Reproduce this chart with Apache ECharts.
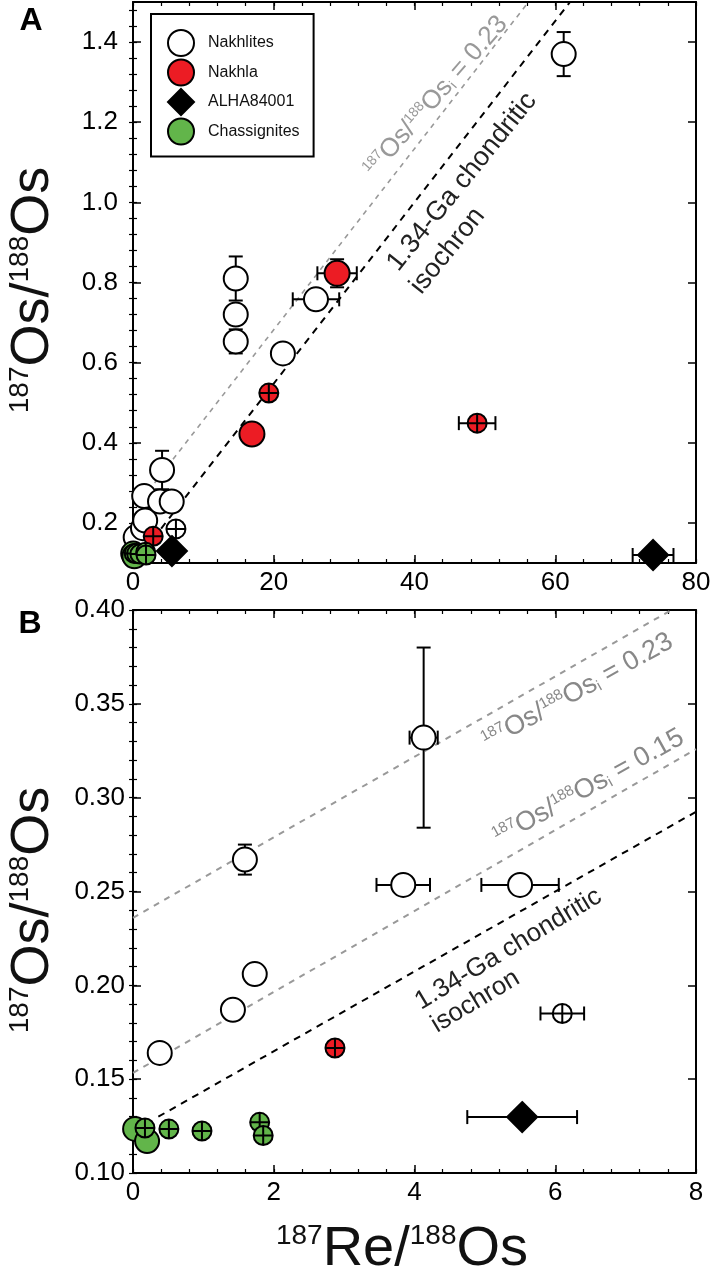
<!DOCTYPE html>
<html>
<head>
<meta charset="utf-8">
<script src="https://cdn.jsdelivr.net/npm/echarts@6/dist/echarts.min.js"></script>
<style>
  html, body { margin: 0; padding: 0; background: #fff; }
  #chart { width: 715px; height: 1273px; }
</style>
</head>
<body>
<div id="chart"></div>
<script>
// [187Re/188Os, 187Os/188Os, ±Re/Os, ±Os/Os, crossed(err smaller than symbol)]
const nakhlites = [
  [0.38, 0.164, 0, 0, 0],
  [1.42, 0.187, 0, 0, 0],
  [1.73, 0.206, 0, 0, 0],
  [1.59, 0.267, 0, 0.008, 0],
  [4.13, 0.332, 0.2, 0.048, 0],
  [3.84, 0.2535, 0.38, 0, 0],
  [5.50, 0.2535, 0.55, 0, 0],
  [6.10, 0.185, 0.31, 0, 1],
  [14.6, 0.810, 0, 0.055, 0],
  [14.6, 0.720, 0, 0, 0],
  [14.6, 0.653, 0, 0.03, 0],
  [21.3, 0.623, 0, 0, 0],
  [26.0, 0.758, 3.3, 0, 0],
  [61.2, 1.370, 0, 0.055, 0]
];
const nakhla = [
  [2.87, 0.1666, 0.1, 0, 1],
  [16.9, 0.422, 0, 0, 0],
  [19.3, 0.524, 0, 0, 1],
  [29.0, 0.823, 2.8, 0.035, 0],
  [48.9, 0.449, 2.6, 0, 1]
];
const alha84001 = [
  [5.53, 0.1298, 0.78, 0, 0],
  [73.9, 0.120, 2.9, 0, 0]
];
const chassignites = [
  [0.03, 0.1235, 0, 0, 0],
  [0.20, 0.117, 0, 0, 0],
  [0.17, 0.124, 0, 0, 1],
  [0.51, 0.1234, 0, 0, 1],
  [0.98, 0.1224, 0, 0, 1],
  [1.80, 0.127, 0, 0, 1],
  [1.85, 0.120, 0, 0, 1]
];

// reference lines (end points)
const isochronA = [[4.0, 0.186], [62.1, 1.5]];
const osi023A = [[2.2, 0.28], [56.2, 1.5]];
const isochronB = [[0.36, 0.130], [8.0, 0.2925]];
const osi023B = [[0, 0.236], [7.65, 0.4]];
const osi015B = [[0, 0.1533], [8.0, 0.3259]];

// ticks
const xTicksA = [0, 20, 40, 60, 80];
const yTicksA = [0.2, 0.4, 0.6, 0.8, 1.0, 1.2, 1.4];
const xTicksB = [0, 2, 4, 6, 8];
const yTicksB = [0.10, 0.15, 0.20, 0.25, 0.30, 0.35, 0.40];

const FONT = '"Liberation Sans", Arial, Helvetica, sans-serif';
const RED = '#ec1c24';
const GREEN = '#62b54a';
const CROSS = 'path://M0,-10A10,10,0,1,1,0,10A10,10,0,1,1,0,-10ZM-10,0L10,0M0,-10L0,10';

function steps(from, to, step) {
  let out = [];
  for (let v = from; v <= to + step / 1000; v += step) out.push(+v.toFixed(4));
  return out;
}

// one panel = 4 axes per dimension (main/minor ticks on both sides)
function axesFor(dim, gi, min, max, majors, minors, fmt, margin) {
  let pos = dim === 'x' ? ['bottom', 'top'] : ['left', 'right'];
  let base = { type: 'value', gridIndex: gi, min: min, max: max, splitLine: { show: false } };
  let line = { show: true, onZero: false, lineStyle: { color: '#000', width: 2 } };
  let major = { show: true, inside: true, length: 8, customValues: majors, lineStyle: { color: '#000', width: 1.5 } };
  let minor = { show: true, inside: true, length: 4, customValues: minors, lineStyle: { color: '#000', width: 1.2 } };
  return [
    Object.assign({}, base, { position: pos[0], axisLine: line, axisTick: major,
      axisLabel: { show: true, customValues: majors, formatter: fmt, margin: margin, color: '#000', fontSize: 26, fontFamily: FONT } }),
    Object.assign({}, base, { position: pos[0], axisLine: { show: false }, axisTick: minor, axisLabel: { show: false } }),
    Object.assign({}, base, { position: pos[1], axisLine: line, axisTick: major, axisLabel: { show: false } }),
    Object.assign({}, base, { position: pos[1], axisLine: { show: false }, axisTick: minor, axisLabel: { show: false } })
  ];
}

function errBars(params, api) {
  let x = api.value(0), y = api.value(1), ex = api.value(2), ey = api.value(3);
  let cap = 7;
  let kids = [];
  let st = { stroke: '#000', lineWidth: 2 };
  if (ex > 0) {
    let l = api.coord([x - ex, y]), r = api.coord([x + ex, y]);
    kids.push({ type: 'line', shape: { x1: l[0], y1: l[1], x2: r[0], y2: r[1] }, style: st });
    kids.push({ type: 'line', shape: { x1: l[0], y1: l[1] - cap, x2: l[0], y2: l[1] + cap }, style: st });
    kids.push({ type: 'line', shape: { x1: r[0], y1: r[1] - cap, x2: r[0], y2: r[1] + cap }, style: st });
  }
  if (ey > 0) {
    let b = api.coord([x, y - ey]), t = api.coord([x, y + ey]);
    kids.push({ type: 'line', shape: { x1: b[0], y1: b[1], x2: t[0], y2: t[1] }, style: st });
    kids.push({ type: 'line', shape: { x1: b[0] - cap, y1: b[1], x2: b[0] + cap, y2: b[1] }, style: st });
    kids.push({ type: 'line', shape: { x1: t[0] - cap, y1: t[1], x2: t[0] + cap, y2: t[1] }, style: st });
  }
  return { type: 'group', children: kids };
}

const groups = [
  { name: 'Nakhlites', rows: nakhlites, color: '#fff', symbol: 'circle', size: 24 },
  { name: 'Nakhla', rows: nakhla, color: RED, symbol: 'circle', size: 25 },
  { name: 'ALHA84001', rows: alha84001, color: '#000', symbol: 'diamond', size: 30 },
  { name: 'Chassignites', rows: chassignites, color: GREEN, symbol: 'circle', size: 24 }
];

let series = [];
[0, 1].forEach(function (p) {
  let ax = p * 4;
  let refLines = p === 0
    ? [[isochronA, '#000', 2, [7, 6]], [osi023A, '#999', 1.6, [5, 5]]]
    : [[isochronB, '#000', 2, [7, 6]], [osi023B, '#999', 2, [6, 6]], [osi015B, '#999', 2, [6, 6]]];
  refLines.forEach(function (r, i) {
    series.push({
      type: 'line', name: 'ref' + p + i, xAxisIndex: ax, yAxisIndex: ax, data: r[0],
      symbol: 'none', silent: true, z: 1, animation: false,
      lineStyle: { color: r[1], width: r[2], type: r[3] }
    });
  });
  groups.forEach(function (g) {
    series.push({
      type: 'custom', name: g.name + ' err' + p, xAxisIndex: ax, yAxisIndex: ax,
      data: g.rows, renderItem: errBars, encode: { x: 0, y: 1 }, clip: true, z: 2, silent: true
    });
    series.push({
      type: 'scatter', name: g.name, xAxisIndex: ax, yAxisIndex: ax, z: 3, clip: true,
      symbol: g.symbol, symbolSize: g.size,
      itemStyle: { color: g.color, borderColor: '#000', borderWidth: 2, opacity: 1 },
      data: g.rows.map(function (r) {
        let item = { value: [r[0], r[1]] };
        if (r[4]) { item.symbol = CROSS; item.symbolSize = 19; }
        return item;
      })
    });
  });
});

function osText(val, big, small, color) {
  return {
    text: '{s|187}{b|Os/}{s|188}{b|Os}{i|i}{b| = ' + val + '}',
    rich: {
      b: { fontSize: big, fontFamily: FONT, fill: color },
      s: { fontSize: small, fontFamily: FONT, fill: color, verticalAlign: 'top' },
      i: { fontSize: small, fontFamily: FONT, fill: color, verticalAlign: 'bottom' }
    }
  };
}

function titleText(lead, big, small) {
  return {
    text: '{s|187}{b|' + lead + '/}{s|188}{b|Os}',
    rich: {
      b: { fontSize: big, fontFamily: FONT, fill: '#111' },
      s: { fontSize: small, fontFamily: FONT, fill: '#111', verticalAlign: 'top' }
    }
  };
}

function rotText(x, y, deg, style, align, vAlign) {
  return {
    type: 'text', x: x, y: y, rotation: deg * Math.PI / 180, z: 10, silent: true,
    style: Object.assign({ textAlign: align, textVerticalAlign: vAlign, align: align, verticalAlign: vAlign }, style)
  };
}

const plain = function (t, size, color) {
  return { text: t, fontSize: size, fontFamily: FONT, fill: color };
};

const graphics = [
  rotText(31, 21, 0, { text: 'A', fontSize: 32, fontWeight: 'bold', fontFamily: FONT, fill: '#000' }, 'center', 'middle'),
  rotText(30, 624, 0, { text: 'B', fontSize: 32, fontWeight: 'bold', fontFamily: FONT, fill: '#000' }, 'center', 'middle'),
  rotText(33, 290, 90, titleText('Os', 54, 28), 'center', 'middle'),
  rotText(33, 910, 90, titleText('Os', 54, 28), 'center', 'middle'),
  rotText(402, 1250, 0, titleText('Re', 56, 28), 'center', 'middle'),
  // panel A annotations
  rotText(379, 182, 49, osText('0.23', 26, 14, '#999'), 'left', 'bottom'),
  rotText(403, 276, 51, plain('1.34-Ga chondritic', 27, '#222'), 'left', 'bottom'),
  rotText(426, 299, 51, plain('isochron', 27, '#222'), 'left', 'bottom'),
  // panel B annotations
  rotText(491, 755, 29, osText('0.23', 27, 15, '#888'), 'left', 'bottom'),
  rotText(502, 851, 29, osText('0.15', 27, 15, '#888'), 'left', 'bottom'),
  rotText(424, 1015, 31, plain('1.34-Ga chondritic', 26, '#222'), 'left', 'bottom'),
  rotText(440, 1038, 31, plain('isochron', 26, '#222'), 'left', 'bottom')
];

const chart = echarts.init(document.getElementById('chart'));
chart.setOption({
  animation: false,
  backgroundColor: '#fff',
  grid: [
    { left: 133, top: 2, width: 563, height: 561 },
    { left: 133, top: 610, width: 563, height: 563 }
  ],
  xAxis: [].concat(
    axesFor('x', 0, 0, 80, xTicksA, steps(0, 80, 4), function (v) { return String(v); }, 7),
    axesFor('x', 1, 0, 8, xTicksB, steps(0, 8, 0.4), function (v) { return String(v); }, 7)
  ),
  yAxis: [].concat(
    axesFor('y', 0, 0.1, 1.5, yTicksA, steps(0.12, 1.48, 0.04), function (v) { return v.toFixed(1); }, 15),
    axesFor('y', 1, 0.1, 0.4, yTicksB, steps(0.1, 0.4, 0.01), function (v) { return v.toFixed(2); }, 8)
  ),
  legend: {
    data: groups.map(function (g) { return { name: g.name, icon: g.symbol }; }),
    orient: 'vertical', left: 151, top: 14,
    padding: [15, 14, 11, 16], itemGap: 1.5, itemWidth: 26, itemHeight: 26,
    borderColor: '#000', borderWidth: 2, backgroundColor: '#fff',
    selectedMode: false,
    textStyle: { fontSize: 16, fontFamily: FONT, color: '#111', padding: [0, 0, 0, 9] }
  },
  graphic: graphics,
  series: series
});
</script>
</body>
</html>
